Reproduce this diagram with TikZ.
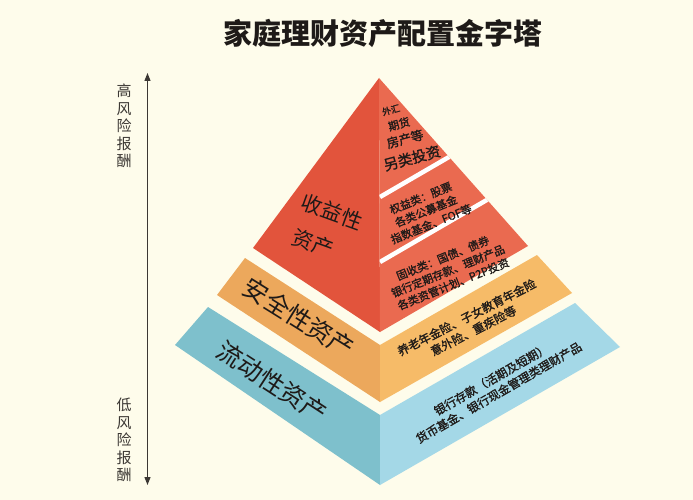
\documentclass[tikz,border=0pt]{standalone}
\usepackage{fontspec}
\setmainfont{Noto Sans CJK SC}
\newfontfamily\rtfont[FakeBold=1.2]{Noto Sans CJK SC}
\usetikzlibrary{arrows.meta}
\definecolor{bg}{RGB}{254,252,235}
\definecolor{redL}{RGB}{226,84,60}
\definecolor{redR}{RGB}{234,106,80}
\definecolor{orL}{RGB}{236,168,92}
\definecolor{orR}{RGB}{246,187,104}
\definecolor{blL}{RGB}{126,192,204}
\definecolor{blR}{RGB}{164,216,231}
\definecolor{txt}{RGB}{30,26,24}
\definecolor{axis}{RGB}{60,56,52}
\lineskiplimit=-30pt
\lineskip=0pt
\begin{document}
\begin{tikzpicture}[x=1pt,y=-1pt,
  lbl/.style={inner sep=0pt, text=txt},
  fs/.style={font=\fontsize{#1}{#1}\selectfont},
  rtA/.style={inner sep=0pt, text=txt, align=center,
    font=\rtfont\fontsize{11}{14}\selectfont},
  rtB/.style={inner sep=0pt, text=txt, align=center,
    font=\rtfont\fontsize{11.8}{15}\selectfont}]
\useasboundingbox (0,0) rectangle (693,500);
\fill[bg] (0,0) rectangle (693,500);

% ---- pyramid geometry ----
\coordinate (A) at (379,78);
\coordinate (L1) at (253,248);
\coordinate (F1) at (380,332);
\coordinate (R1) at (528,246);

% blue layer
\fill[blL] (208,307) -- (175,345) -- (380,485) -- (380,415) -- cycle;
\fill[blR] (380,415) -- (575,303) -- (620,347) -- (380,485) -- cycle;
% orange layer
\fill[orL] (245,258) -- (217,295) -- (380,402) -- (380,345) -- cycle;
\fill[orR] (380,345) -- (537,255) -- (572,293) -- (380,402) -- cycle;
% red pyramid
\fill[redL] (A) -- (L1) -- (F1) -- cycle;
\fill[redR] (A) -- (F1) -- (R1) -- cycle;
\begin{scope}
  \clip (A) -- (F1) -- (R1) -- cycle;
  \draw[white, line width=4.5pt] (380,197) -- (480,139);
  \draw[white, line width=4.5pt] (380,262) -- (500,192.3);
\end{scope}

% ---- title ----
\node[lbl, font=\fontsize{29}{31}\selectfont\bfseries] (title) at (383,33) {家庭理财资产配置金字塔};

% ---- left axis ----
\coordinate (axtop) at (147.5,73);
\coordinate (axbot) at (147.5,485);
\draw[axis, line width=1.3pt, {Triangle[length=8pt,width=6pt]}-{Triangle[length=8pt,width=6pt]}] (axtop) -- (axbot);
\node[lbl, text=axis, align=center, font=\fontsize{15}{17.6}\selectfont] (hi) at (124,126) {高\\风\\险\\报\\酬};
\node[lbl, text=axis, align=center, font=\fontsize{15}{17.6}\selectfont] (lo) at (124,440) {低\\风\\险\\报\\酬};

% ---- left face labels ----
\node[lbl, rotate=-20, fs=21] (sy1) at (332,212) {收益性};
\node[lbl, rotate=-20, fs=21] (sy2) at (313,243) {资产};
\node[lbl, rotate=-32, fs=25] (aq) at (299,318) {安全性资产};
\node[lbl, rotate=-33, fs=25] (ld) at (272,382) {流动性资产};

% ---- red right face texts ----
\node[lbl, rotate=15, font=\rtfont\fontsize{9}{9}\selectfont] (t1) at (391,110) {外汇};
\node[lbl, rotate=15, font=\rtfont\fontsize{11}{11}\selectfont] (t2) at (399,124) {期货};
\node[lbl, rotate=15, font=\rtfont\fontsize{12.5}{12.5}\selectfont] (t3) at (405,139) {房产等};
\node[lbl, rotate=15, font=\rtfont\fontsize{14.5}{14.5}\selectfont] (t4) at (412,158) {另类投资};

\node[rtA, rotate=22] (q) at (426,211) {权益类：股票\\各类公募基金\\指数基金、FOF等};
\node[rtA, rotate=22] (g) at (448,271) {固收类：国债、债券\\银行定期存款、理财产品\\各类资管计划、P2P投资};

% ---- orange right face text ----
\node[rtB, rotate=27] (o) at (470,324) {养老年金险、子女教育年金险\\意外险、重疾险等};

% ---- blue right face text ----
\node[rtB, rotate=30] (b) at (495,386) {银行存款（活期及短期）\\货币基金、银行现金管理类理财产品};
\end{tikzpicture}
\end{document}
